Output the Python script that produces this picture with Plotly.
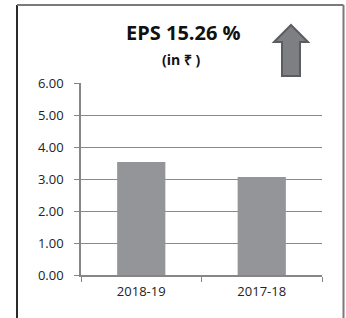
import plotly.graph_objects as go

categories = ["2018-19", "2017-18"]
eps_values = [3.53, 3.06]
y_tick_vals = [0, 1, 2, 3, 4, 5, 6]
y_tick_text = ["0.00", "1.00", "2.00", "3.00", "4.00", "5.00", "6.00"]
title_text = "EPS 15.26 %"
subtitle_text = "(in ₹ )"

W, H = 346, 318
L, R, T, B = 81, 24, 83, 43
PW = W - L - R
PH = H - T - B


def px(x):
    return (x - L) / PW


def py(y):
    return (H - B - y) / PH


fig = go.Figure()
fig.add_trace(go.Bar(
    x=categories, y=eps_values, width=0.4,
    marker=dict(color="#939598", line=dict(width=0)),
))

font_family = "Open Sans, Liberation Sans, sans-serif"

# arrow decoration (pixel geometry converted to paper)
arrow_pts = [(291, 25), (308, 42), (300, 42), (300, 76), (282, 76), (282, 42), (274, 42)]
path = "M " + " L ".join(f"{px(a):.4f},{py(b):.4f}" for a, b in arrow_pts) + " Z"

shapes = [
    dict(type="path", xref="paper", yref="paper", path=path,
         fillcolor="#7d7f82", line=dict(color="#5c5d60", width=2), layer="above"),
    # outer frame
    dict(type="line", xref="paper", yref="paper", x0=px(17), x1=px(17), y0=py(5), y1=py(330),
         line=dict(color="#2b2b2b", width=2)),
    dict(type="line", xref="paper", yref="paper", x0=px(17), x1=px(343.5), y0=py(5), y1=py(5),
         line=dict(color="#7a7a7a", width=2)),
    dict(type="line", xref="paper", yref="paper", x0=px(343.5), x1=px(343.5), y0=py(5), y1=py(330),
         line=dict(color="#7a7a7a", width=2)),
]

fig.update_layout(
    width=W, height=H,
    margin=dict(l=L, r=R, t=T, b=B),
    paper_bgcolor="white", plot_bgcolor="white",
    showlegend=False,
    bargap=0.6,
    font=dict(family=font_family, color="#222222", size=13),
    shapes=shapes,
    annotations=[
        dict(text=f"<b>{title_text}</b>", xref="paper", yref="paper",
             x=px(183.5), y=py(32), showarrow=False, font=dict(size=20, color="#111111"),
             xanchor="center", yanchor="middle"),
        dict(text=f"<b>{subtitle_text}</b>", xref="paper", yref="paper",
             x=px(181), y=py(60), showarrow=False, font=dict(size=14, color="#111111"),
             xanchor="center", yanchor="middle"),
    ],
    xaxis=dict(
        showline=True, linecolor="#868686", linewidth=1.5,
        ticks="outside", ticklen=5, tickcolor="#868686", tickwidth=1,
        tickson="boundaries", showgrid=False, zeroline=False,
        tickfont=dict(size=13, color="#222222"),
        ticklabelstandoff=4,
    ),
    yaxis=dict(
        range=[0, 6], tickvals=y_tick_vals, ticktext=y_tick_text,
        showline=True, linecolor="#868686", linewidth=1.5,
        ticks="outside", ticklen=5, tickcolor="#868686",
        showgrid=True, gridcolor="#8a8a8a", gridwidth=1,
        zeroline=False, tickfont=dict(size=13, color="#222222"),
        ticklabelstandoff=8,
    ),
)

fig.write_html("out.html", config={"displayModeBar": False})

# remove default page margin so the figure sits at the window origin
with open("out.html", "r", encoding="utf-8") as f:
    html = f.read()
html = html.replace("<head>", "<head><style>html,body{margin:0;padding:0;}</style>", 1)
with open("out.html", "w", encoding="utf-8") as f:
    f.write(html)
